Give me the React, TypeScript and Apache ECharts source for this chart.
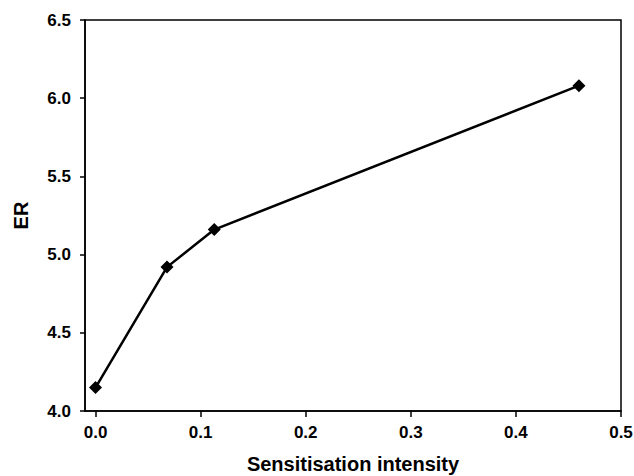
import React, { useEffect, useRef } from "react";
import * as echarts from "echarts";

const xValues = [0.0, 0.068, 0.113, 0.46];
const erValues = [4.15, 4.92, 5.16, 6.08];
const xTicks = [0, 0.1, 0.2, 0.3, 0.4, 0.5];
const xTitle = "Sensitisation intensity";
const yTitle = "ER";

export default function App() {
  const ref = useRef<HTMLDivElement>(null);
  useEffect(() => {
    if (!ref.current) return;
    const chart = echarts.init(ref.current, null, { renderer: "svg" });
    const font = "'Liberation Sans', Arial, sans-serif";
    chart.setOption({
      animation: false,
      backgroundColor: "#fff",
      grid: {
        left: 85,
        top: 20,
        right: 13,
        bottom: 65,
        outerBoundsMode: "none",
        containLabel: false,
        show: true,
        borderColor: "#000",
        borderWidth: 1.5,
      },
      xAxis: {
        type: "value",
        min: -0.01,
        max: 0.5,
        name: xTitle,
        nameLocation: "middle",
        nameGap: 43,
        nameTextStyle: { fontFamily: font, fontWeight: "bold", fontSize: 20, color: "#000" },
        axisLine: { show: true, onZero: false, lineStyle: { color: "#000", width: 1.5 } },
        axisTick: { show: true, inside: false, length: 6, lineStyle: { color: "#000", width: 1.5 }, customValues: xTicks },
        axisLabel: {
          customValues: xTicks,
          formatter: (v: number) => v.toFixed(1),
          fontFamily: font,
          fontWeight: "bold",
          fontSize: 17,
          color: "#000",
          margin: 13,
        },
        splitLine: { show: false },
      },
      yAxis: {
        type: "value",
        min: 4.0,
        max: 6.5,
        interval: 0.5,
        name: yTitle,
        nameLocation: "middle",
        nameGap: 54,
        nameRotate: 90,
        nameTextStyle: { fontFamily: font, fontWeight: "bold", fontSize: 20, color: "#000" },
        axisLine: { show: true, onZero: false, lineStyle: { color: "#000", width: 1.5 } },
        axisTick: { show: true, inside: false, length: 5, lineStyle: { color: "#000", width: 1.5 } },
        axisLabel: {
          formatter: (v: number) => v.toFixed(1),
          fontFamily: font,
          fontWeight: "bold",
          fontSize: 17,
          color: "#000",
          margin: 14,
        },
        splitLine: { show: false },
      },
      series: [
        {
          type: "line",
          data: xValues.map((x, i) => [x, erValues[i]]),
          symbol: "diamond",
          symbolSize: 13,
          lineStyle: { color: "#000", width: 2.5 },
          itemStyle: { color: "#000" },
        },
      ],
    });
    return () => chart.dispose();
  }, []);
  return <div ref={ref} style={{ width: 634, height: 476, position: "absolute", left: 0, top: 0 }} />;
}
